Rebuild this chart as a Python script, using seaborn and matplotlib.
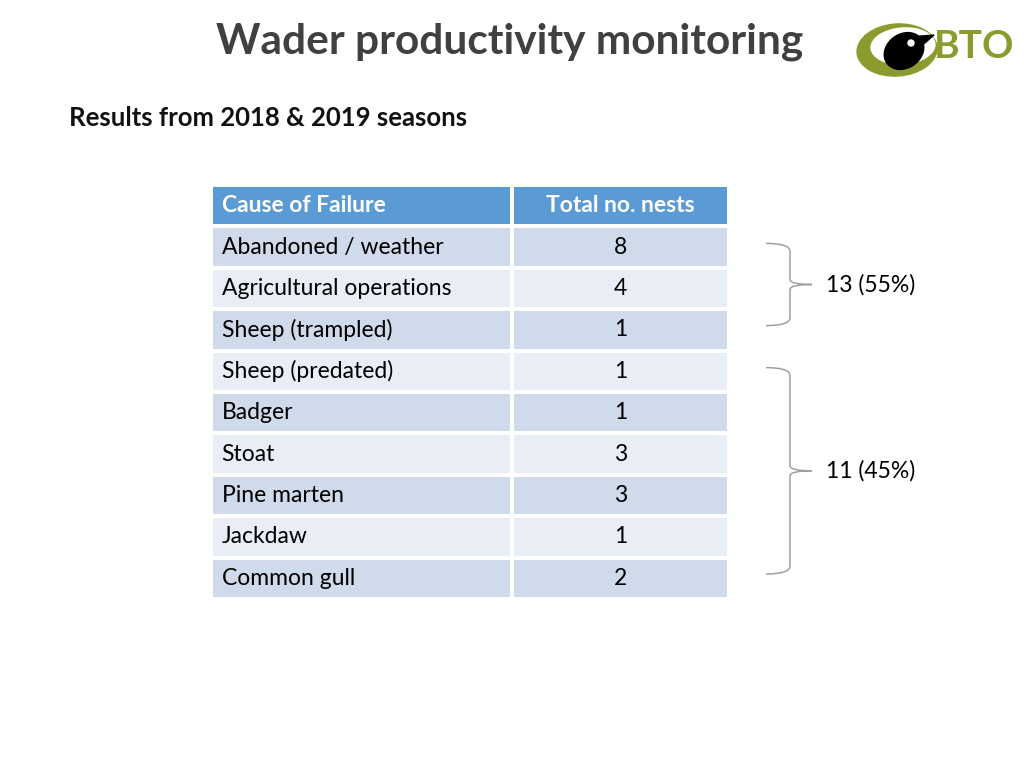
import numpy as np
import matplotlib
matplotlib.use("Agg")
import matplotlib.pyplot as plt
from matplotlib.colors import ListedColormap
from matplotlib.path import Path
from matplotlib.patches import PathPatch, Ellipse, Polygon, Circle
import seaborn as sns

# table content
header = ["Cause of Failure", "Total no. nests"]
causes = ["Abandoned / weather", "Agricultural operations", "Sheep (trampled)",
          "Sheep (predated)", "Badger", "Stoat", "Pine marten", "Jackdaw", "Common gull"]
nests = [8, 4, 1, 1, 1, 3, 3, 1, 2]

# grouped totals shown on the right (first and last row of each group)
group_labels = ["13 (55%)", "11 (45%)"]
group_rows = [(0, 2), (3, 8)]

sns.set_theme(style="white")
plt.rcParams["font.family"] = ["Lato", "DejaVu Sans"]

fig = plt.figure(figsize=(10.24, 7.68), dpi=100)
bg = fig.add_axes([0, 0, 1, 1])
bg.set_xlim(0, 1024)
bg.set_ylim(768, 0)
bg.axis("off")

# titles
bg.text(510, 42, "Wader productivity monitoring", ha="center", va="center",
        fontsize=30.5, fontweight="bold", color="#404040")
bg.text(69, 118, "Results from 2018 & 2019 seasons", ha="left", va="center",
        fontsize=18.5, fontweight="bold", color="#111111")

# logo
olive = "#8C9A2E"
bg.add_patch(Ellipse((897, 50), 80, 52, color=olive, angle=-4))
bg.add_patch(Ellipse((903, 46), 64, 36, color="white", angle=-4))
bg.add_patch(Ellipse((904, 51), 42, 34, color="black", angle=-35))
bg.add_patch(Polygon([[909, 37], [934, 35], [918, 49]], closed=True, color="black"))
bg.add_patch(Circle((911, 43), 3.0, color="white"))
bg.text(974, 47, "BTO", ha="center", va="center", fontsize=28,
        fontweight="bold", color=olive)

# table cells drawn as two one-column heatmaps
shade = np.array([0] + [1 + (i % 2) for i in range(len(causes))]).reshape(-1, 1)
cmap = ListedColormap(["#5B9BD5", "#CFDAEA", "#E9EEF6"])
top, bottom = 185, 599
col_edges = [211, 512, 729]
nrows = len(causes) + 1
axes = []
for c in range(2):
    ax = fig.add_axes([col_edges[c] / 1024, 1 - bottom / 768,
                       (col_edges[c + 1] - col_edges[c]) / 1024, (bottom - top) / 768])
    sns.heatmap(shade, cmap=cmap, vmin=-0.5, vmax=2.5, cbar=False,
                linewidths=1.6, linecolor="white", xticklabels=False,
                yticklabels=False, ax=ax)
    axes.append(ax)

axes[0].text(0.035, 0.5, header[0], ha="left", va="center", color="white",
             fontsize=16.5, fontweight="bold")
axes[1].text(0.5, 0.5, header[1], ha="center", va="center", color="white",
             fontsize=16.5, fontweight="bold")
for i, (name, n) in enumerate(zip(causes, nests)):
    axes[0].text(0.035, i + 1.5, name, ha="left", va="center", color="black", fontsize=16.5)
    axes[1].text(0.5, i + 1.5, str(n), ha="center", va="center", color="black", fontsize=16.5)


def brace(ax, y0, y1, x0=766, xv=790, xt=812):
    ym = (y0 + y1) / 2
    verts = [(x0, y0), (xv, y0), (xv, y0 + 8),
             (xv, ym - 5), (xv, ym), (xt, ym),
             (xv, ym), (xv, ym + 5),
             (xv, y1 - 8), (xv, y1), (x0, y1)]
    codes = [Path.MOVETO, Path.CURVE3, Path.CURVE3,
             Path.LINETO, Path.CURVE3, Path.CURVE3,
             Path.CURVE3, Path.CURVE3,
             Path.LINETO, Path.CURVE3, Path.CURVE3]
    ax.add_patch(PathPatch(Path(verts, codes), fill=False, ec="#A0A0A0", lw=1.1))
    return ym


row_h = (bottom - top) / nrows
for label, (r0, r1) in zip(group_labels, group_rows):
    y0 = top + (r0 + 1) * row_h + 17
    y1 = top + (r1 + 2) * row_h - 25
    ym = brace(bg, y0, y1)
    bg.text(826, ym, label, ha="left", va="center", fontsize=16.5, color="black")

fig.savefig("out.png", dpi=100)
